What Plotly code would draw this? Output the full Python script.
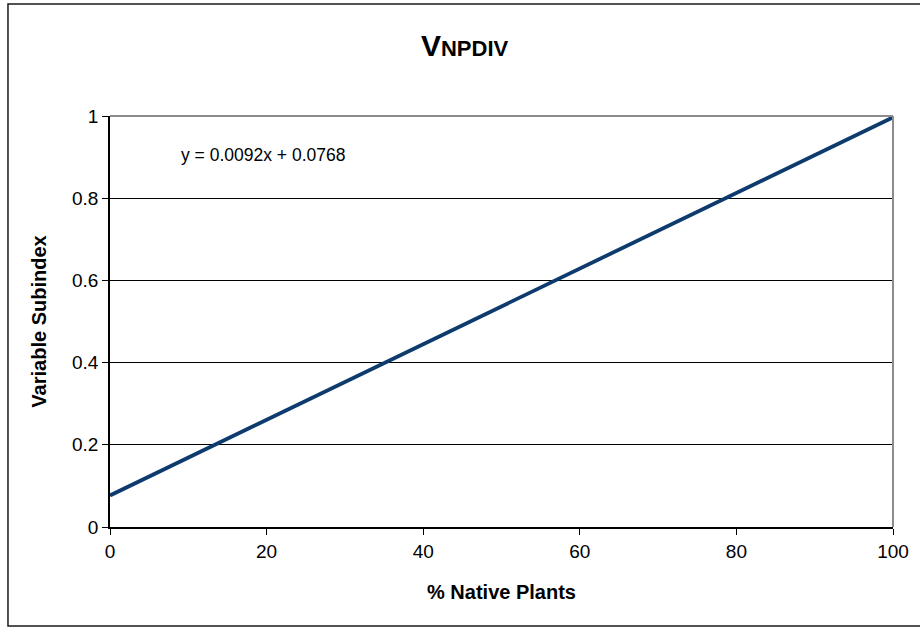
import plotly.graph_objects as go

# ── Data ──────────────────────────────────────────────────────────────────────
# Fitted line for the NPDIV subindex (end points)
x_native = [0, 100]
y_subindex = [0.0768, 0.9968]

x_ticks = [0, 20, 40, 60, 80, 100]
y_ticks = [0, 0.2, 0.4, 0.6, 0.8, 1]
y_tick_text = ['0', '0.2', '0.4', '0.6', '0.8', '1']

equation_text = 'y = 0.0092x + 0.0768'

FONT = 'Liberation Sans, Arial, sans-serif'
LINE_COLOR = '#0d3b6e'

fig = go.Figure()

fig.add_trace(go.Scatter(
    x=x_native,
    y=y_subindex,
    mode='lines',
    line=dict(color=LINE_COLOR, width=3.8),
    showlegend=False,
    hoverinfo='skip',
))

# Gray plot-area frame on top and right (Excel style)
fig.add_shape(type='line', xref='paper', yref='paper', x0=0, x1=1, y0=1, y1=1,
              line=dict(color='#8c8c8c', width=2))
fig.add_shape(type='line', xref='paper', yref='paper', x0=1, x1=1, y0=0, y1=1,
              line=dict(color='#8c8c8c', width=2))

# Outer chart border
fig.add_shape(type='rect', xref='paper', yref='paper',
              x0=-0.1303, x1=1.045, y0=-0.2409, y1=1.2725,
              line=dict(color='#1a1a1a', width=1.5), layer='below')

fig.add_annotation(
    text=equation_text, xref='x', yref='paper', x=8.8, y=0.905,
    xanchor='left', yanchor='middle', showarrow=False,
    font=dict(family=FONT, size=17.5, color='black'),
)

fig.update_layout(
    width=920, height=628,
    margin=dict(l=110, r=27, t=116, b=101),
    paper_bgcolor='white',
    plot_bgcolor='white',
    font=dict(family=FONT, color='black'),
    title=dict(
        text="<b>V<span style='font-size:22px'>NPDIV</span></b>",
        x=0.505, xanchor='center', y=0.928, yanchor='middle',
        font=dict(family=FONT, size=30, color='black'),
    ),
    xaxis=dict(
        range=[0, 100],
        tickvals=x_ticks,
        ticks='outside', ticklen=6, tickcolor='black', tickwidth=1,
        showline=True, linecolor='black', linewidth=1.5,
        showgrid=False, zeroline=False,
        tickfont=dict(family=FONT, size=19),
        title=dict(text='<b>% Native Plants</b>', font=dict(family=FONT, size=20),
                   standoff=24),
    ),
    yaxis=dict(
        range=[0, 1],
        tickvals=y_ticks, ticktext=y_tick_text,
        ticks='outside', ticklen=6, tickcolor='black', tickwidth=1,
        showline=True, linecolor='black', linewidth=1.5,
        showgrid=True, gridcolor='black', gridwidth=1,
        zeroline=False,
        tickfont=dict(family=FONT, size=19),
        title=dict(text='<b>Variable Subindex</b>', font=dict(family=FONT, size=20),
                   standoff=20),
    ),
)

# The page body has a default 8px margin; remove it so the figure fills the window
fig.write_html('out.html', config={'displayModeBar': False},
               post_script="document.body.style.margin='0';")
